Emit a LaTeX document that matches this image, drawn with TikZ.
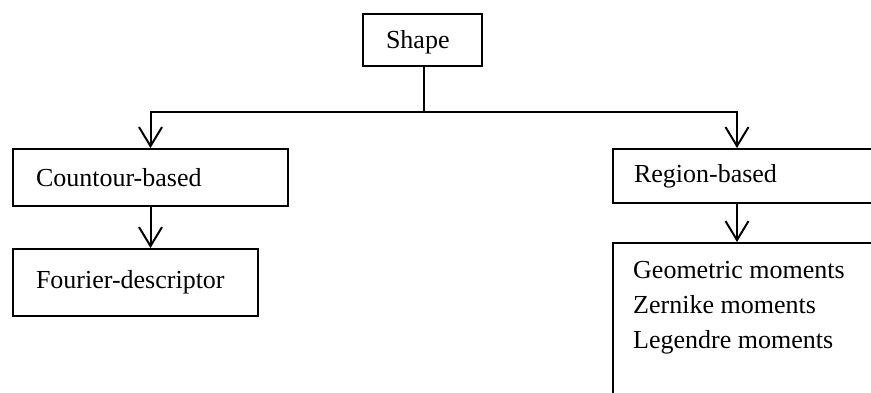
\documentclass[tikz,border=0pt]{standalone}
\usepackage{fontspec}
\setmainfont{Liberation Serif}
\usetikzlibrary{arrows.meta}
\begin{document}
\begin{tikzpicture}[x=1pt,y=-1pt,
    every node/.style={font=\fontsize{26}{31}\selectfont},
    box/.style={draw, line width=2pt, rectangle, anchor=north west, inner ysep=0pt, align=left},
    conn/.style={line width=2pt},
    arr/.style={conn, -{Straight Barb[length=19pt,width=23pt,line width=2pt]}},
    item/.style={anchor=base west, inner sep=0pt}]
  \useasboundingbox (0,0) rectangle (871,392);
  \clip (0,0) rectangle (871,392);

  % boxes: text width = box width - 2 * inner xsep
  \node[box, minimum width=119pt, minimum height=52pt, inner xsep=23pt, text width=73pt,
        text depth=4pt, text height=20pt] (shape) at (362,13) {Shape};
  \node[box, minimum width=275pt, minimum height=57pt, inner xsep=23pt, text width=229pt] (contour) at (12,148) {Countour-based};
  \node[box, minimum width=245pt, minimum height=67pt, inner xsep=23pt, text width=199pt] (fourier) at (12,248) {Fourier-descriptor};
  \node[box, minimum width=300pt, minimum height=54pt, inner xsep=21pt, text width=258pt] (region) at (612,148) {Region-based};
  \node[box, minimum width=300pt, minimum height=200pt] (moments) at (612,242) {};

  % contents of the moments box
  \node[item] (geo) at (633,278) {Geometric moments};
  \node[item] (zer) at (633,313) {Zernike moments};
  \node[item] (leg) at (633,348) {Legendre moments};

  % connectors
  \coordinate (bus) at (424,112);
  \coordinate (rx) at (737,0);
  \draw[conn] (bus |- shape.south) -- (bus);
  \draw[arr] (bus) -| (contour.north);
  \draw[arr] (bus) -| (rx |- region.north);
  \draw[arr] (contour.south) -- (contour.south |- fourier.north);
  \draw[arr] (rx |- region.south) -- (rx |- moments.north);
\end{tikzpicture}
\end{document}
